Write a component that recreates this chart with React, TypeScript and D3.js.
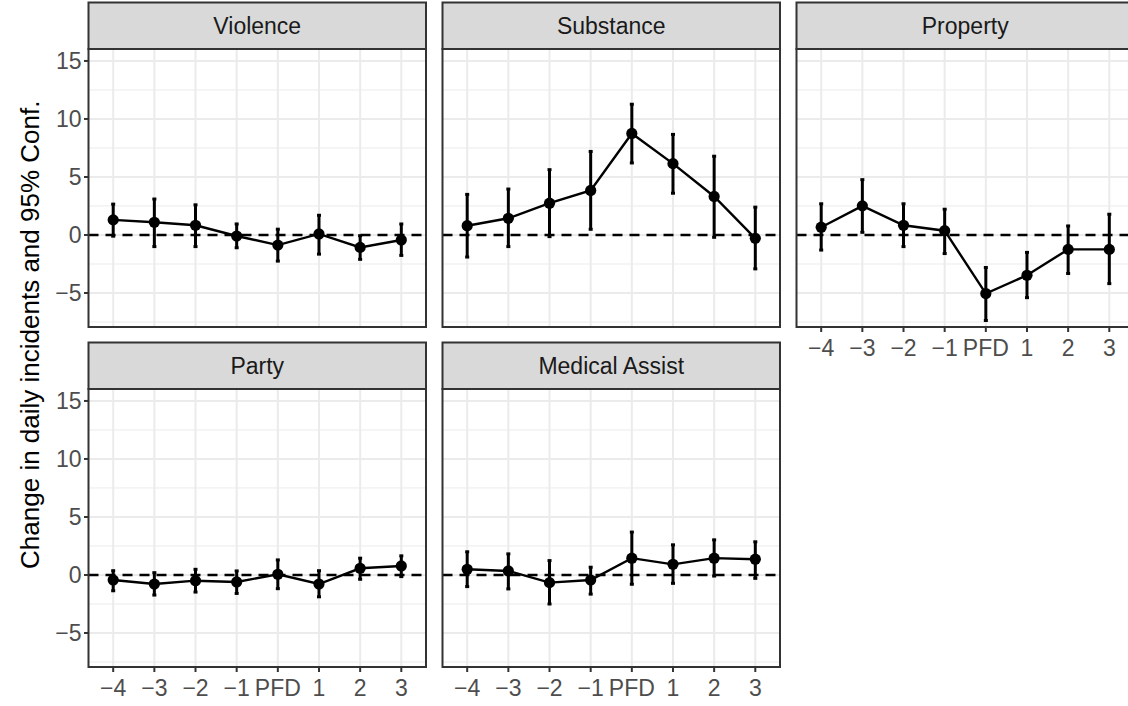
import * as d3 from "d3";
import React from "react";

// event-time periods around the PFD payout
const periods = ["\u22124", "\u22123", "\u22122", "\u22121", "PFD", "1", "2", "3"];
const facets = ["Violence", "Substance", "Property", "Party", "Medical Assist"];

const violenceEst = [1.3, 1.1, 0.84, -0.09, -0.87, 0.09, -1.07, -0.43];
const violenceLow = [-0.1, -1.0, -1.0, -1.1, -2.25, -1.65, -2.1, -1.76];
const violenceHigh = [2.66, 3.1, 2.6, 0.95, 0.5, 1.7, -0.06, 0.95];

const substanceEst = [0.8, 1.44, 2.74, 3.84, 8.75, 6.15, 3.32, -0.29];
const substanceLow = [-1.9, -1.0, -0.14, 0.49, 6.21, 3.6, -0.2, -2.92];
const substanceHigh = [3.5, 3.96, 5.63, 7.2, 11.27, 8.67, 6.79, 2.4];

const propertyEst = [0.67, 2.51, 0.84, 0.37, -5.05, -3.47, -1.24, -1.24];
const propertyLow = [-1.3, 0.23, -1.0, -1.6, -7.37, -5.4, -3.32, -4.19];
const propertyHigh = [2.69, 4.77, 2.69, 2.22, -2.8, -1.5, 0.78, 1.79];

const partyEst = [-0.43, -0.78, -0.49, -0.6, 0.06, -0.78, 0.58, 0.78];
const partyLow = [-1.36, -1.73, -1.47, -1.59, -1.18, -1.88, -0.37, -0.14];
const partyHigh = [0.37, 0.2, 0.49, 0.35, 1.3, 0.37, 1.45, 1.65];

const medicalEst = [0.49, 0.35, -0.66, -0.43, 1.45, 0.92, 1.45, 1.36];
const medicalLow = [-1.0, -1.2, -2.5, -1.65, -0.8, -0.72, -0.09, -0.29];
const medicalHigh = [2.0, 1.82, 1.24, 0.67, 3.7, 2.6, 3.03, 2.86];

const yTicks = [-5, 0, 5, 10, 15];
const yMinor = [-7.5, -2.5, 2.5, 7.5, 12.5];

const series = [
  { est: violenceEst, low: violenceLow, high: violenceHigh },
  { est: substanceEst, low: substanceLow, high: substanceHigh },
  { est: propertyEst, low: propertyLow, high: propertyHigh },
  { est: partyEst, low: partyLow, high: partyHigh },
  { est: medicalEst, low: medicalLow, high: medicalHigh },
];

const W = 1128;
const H = 706;
const colX = [88.5, 442.5, 796.5];
const panelW = 337.5;
const stripTop = [2.5, 342.5];
const stripH = 46.5;
const panelTop = [49, 389];
const panelH = 278;
const font = "'Liberation Sans', Arial, Helvetica, sans-serif";
const fmt = (v: number) => (v < 0 ? "\u2212" + Math.abs(v) : String(v));

function Panel({ idx }: { idx: number }) {
  const col = idx % 3;
  const row = Math.floor(idx / 3);
  const x0 = colX[col];
  const y0 = panelTop[row];
  const s = series[idx];
  const showX = idx >= 2;
  const showY = col === 0;

  const x = d3.scalePoint<string>().domain(periods).range([x0, x0 + panelW]).padding(0.6);
  const y = d3.scaleLinear().domain([-7.93, 16.03]).range([y0 + panelH, y0]);

  const pts = periods.map((p, i) => ({ p, est: s.est[i], low: s.low[i], high: s.high[i] }));
  const line = d3
    .line<(typeof pts)[number]>()
    .x((d) => x(d.p)!)
    .y((d) => y(d.est));

  return (
    <g>
      <rect x={x0} y={y0} width={panelW} height={panelH} fill="#fff" />
      {yMinor.map((t) => (
        <line key={"m" + t} x1={x0} x2={x0 + panelW} y1={y(t)} y2={y(t)} stroke="#EBEBEB" strokeWidth={1} />
      ))}
      {yTicks.map((t) => (
        <line key={"g" + t} x1={x0} x2={x0 + panelW} y1={y(t)} y2={y(t)} stroke="#EBEBEB" strokeWidth={2} />
      ))}
      {periods.map((p) => (
        <line key={"v" + p} x1={x(p)} x2={x(p)} y1={y0} y2={y0 + panelH} stroke="#EBEBEB" strokeWidth={2} />
      ))}
      <line x1={x0} x2={x0 + panelW} y1={y(0)} y2={y(0)} stroke="#000" strokeWidth={2.6} strokeDasharray="10,7" />
      {pts.map((d) => (
        <g key={"e" + d.p}>
          <line x1={x(d.p)} x2={x(d.p)} y1={y(d.low)} y2={y(d.high)} stroke="#000" strokeWidth={3} />
          <line x1={x(d.p)! - 2} x2={x(d.p)! + 2} y1={y(d.low)} y2={y(d.low)} stroke="#000" strokeWidth={3} />
          <line x1={x(d.p)! - 2} x2={x(d.p)! + 2} y1={y(d.high)} y2={y(d.high)} stroke="#000" strokeWidth={3} />
        </g>
      ))}
      <path d={line(pts)!} fill="none" stroke="#000" strokeWidth={2.4} />
      {pts.map((d) => (
        <circle key={"c" + d.p} cx={x(d.p)} cy={y(d.est)} r={5.6} fill="#000" />
      ))}
      <rect x={x0} y={y0} width={panelW} height={panelH} fill="none" stroke="#333333" strokeWidth={2} />
      <rect x={x0} y={stripTop[row]} width={panelW} height={stripH} fill="#D9D9D9" stroke="#333333" strokeWidth={2} />
      <text
        x={x0 + panelW / 2}
        y={stripTop[row] + stripH / 2}
        dy="0.35em"
        textAnchor="middle"
        fontSize={23}
        fill="#1A1A1A"
        fontFamily={font}
      >
        {facets[idx]}
      </text>
      {showY &&
        yTicks.map((t) => (
          <g key={"yt" + t}>
            <line x1={x0 - 4.5} x2={x0} y1={y(t)} y2={y(t)} stroke="#333333" strokeWidth={2} />
            <text x={x0 - 7} y={y(t)} dy="0.35em" textAnchor="end" fontSize={23} fill="#4D4D4D" fontFamily={font}>
              {fmt(t)}
            </text>
          </g>
        ))}
      {showX &&
        periods.map((p) => (
          <g key={"xt" + p}>
            <line x1={x(p)} x2={x(p)} y1={y0 + panelH} y2={y0 + panelH + 5} stroke="#333333" strokeWidth={2} />
            <text x={x(p)} y={y0 + panelH + 29} textAnchor="middle" fontSize={23} fill="#4D4D4D" fontFamily={font}>
              {p}
            </text>
          </g>
        ))}
    </g>
  );
}

export default function App() {
  return (
    <svg width={W} height={H} style={{ position: "absolute", left: 0, top: 0 }}>
      <rect width={W} height={H} fill="#fff" />
      {facets.map((f, i) => (
        <Panel key={f} idx={i} />
      ))}
      <text
        transform={`translate(30,${(stripTop[0] + panelTop[1] + panelH) / 2}) rotate(-90)`}
        dy="0.35em"
        textAnchor="middle"
        fontSize={26}
        fill="#000"
        fontFamily={font}
      >
        Change in daily incidents and 95% Conf.
      </text>
    </svg>
  );
}
